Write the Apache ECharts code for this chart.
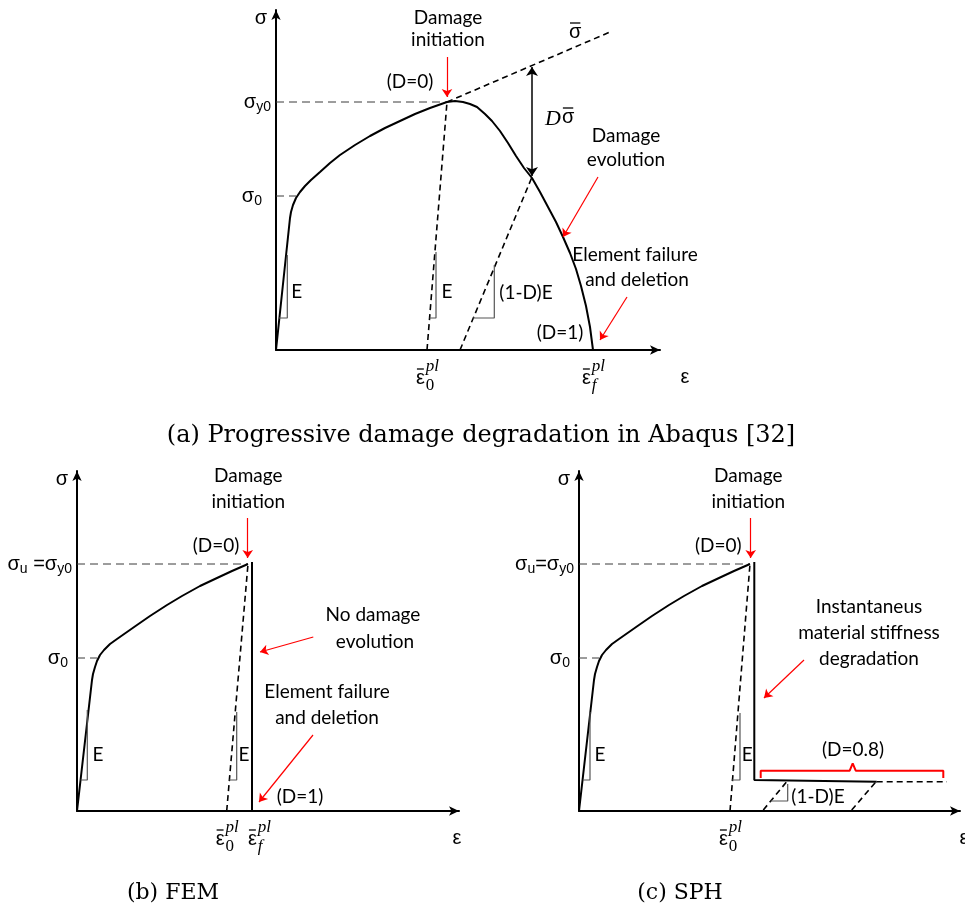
<!DOCTYPE html>
<html>
<head>
<meta charset="utf-8">
<script src="https://cdn.jsdelivr.net/npm/echarts@6/dist/echarts.min.js"></script>
<style>
  html, body { margin: 0; padding: 0; background: #fff; }
  #main { width: 965px; height: 916px; }
</style>
</head>
<body>
<div id="main"></div>
<script>
// ---- data (schematic units: strain on x, stress on y, per panel) ----

// panel (a) Abaqus
const curveA = [[0, 0], [14, 132], [15, 138], [17, 145], [20, 152], [24, 158], [29, 164], [35, 170],
  [44, 178], [54, 187], [64, 195], [79, 205], [94, 214], [109, 222], [124, 229], [139, 236], [154, 242],
  [171, 248], [179, 249], [187, 248], [194, 246], [201, 243], [209, 236], [216, 229], [224, 219],
  [232, 207], [240, 194], [248, 182], [256, 172], [264, 158], [272, 143], [280, 128], [287, 113],
  [294, 97], [300, 81], [305, 64], [310, 44], [314, 23], [317, 0]];
const sigmaBarA = [[171, 248], [334, 318]];
const unloadEA = [[151, 0], [171, 248]];
const unloadDA = [[184, 0], [256, 173]];
const guideYieldA = [[0, 248], [171, 248]];
const guideS0A = [[0, 154], [20, 154]];
const triEA1 = [[3, 32], [11.3, 32], [11.3, 95]];
const triEA2 = [[153.6, 32], [160, 32], [160, 98]];
const triDA = [[197, 32], [218.3, 32], [218.3, 85]];
const dArrowA = [[256, 283], [256, 174]];
const redArrowsA = [
  [[171, 293], [171, 253]],
  [[322, 173], [287, 113]],
  [[351, 53], [324, 10]]
];

// panel (b) FEM
const curveB = [[0, 0], [15, 131], [16, 137], [18, 144], [20, 150], [23, 156], [27, 161], [33, 167],
  [40, 172], [50, 179], [60, 186], [73, 195], [90, 206], [105, 215], [123, 225], [140, 233],
  [155, 240], [171, 247]];
const failB = [[175, 249], [175, 0]];
const unloadEB = [[149.7, 0], [171, 247]];
const guideYieldB = [[0, 247], [171, 247]];
const guideS0B = [[0, 153], [20, 153]];
const triEB1 = [[3.6, 31], [10.3, 31], [10.3, 101]];
const triEB2 = [[152.3, 31], [159.7, 31], [159.7, 99]];
const redArrowsB = [
  [[170.7, 293], [170.7, 253]],
  [[236.3, 174], [183, 159]],
  [[236, 76], [182, 9]]
];

// panel (c) SPH
const curveC = curveB;
const dropC = [[175.3, 249], [175.3, 31], [297.7, 29.3]];
const plateauC = [[297.7, 29.3], [368, 29.3]];
const unloadEC = [[151, 0], [171, 247]];
const unloadDC1 = [[184.3, 1], [207.7, 29.3]];
const unloadDC2 = [[272.7, 1], [297, 29.3]];
const guideYieldC = [[0, 247], [171, 247]];
const guideS0C = [[0, 153], [20, 153]];
const triEC1 = [[3.8, 31], [11, 31], [11, 99]];
const triEC2 = [[152.7, 31], [161, 31], [161, 98]];
const triDC = [[191.7, 10], [208.7, 10], [208.7, 27]];
const bracketC = [[181.7, 33], [181.7, 40.3], [270.7, 40.3], [273.7, 47.7], [276.7, 40.3], [364.3, 40.3], [364.3, 33]];
const redArrowsC = [
  [[171.7, 293], [171.7, 253]],
  [[225, 151], [185, 113]]
];

// text labels [text, x, y] in each panel's units
const labelsA = [['Damage', 172, 332], ['initiation', 172, 310], ['(D=0)', 134, 268],
  ['Damage', 350, 214], ['evolution', 350, 190], ['Element failure', 359, 95], ['and deletion', 361, 70],
  ['(D=1)', 284, 17], ['E', 20.7, 58], ['E', 171, 58], ['(1-D)E', 250, 57]];
const labelsB = [['Damage', 171.3, 335], ['initiation', 171.3, 309], ['(D=0)', 139, 265],
  ['No damage', 296, 196], ['evolution', 298, 169], ['Element failure', 250, 119], ['and deletion', 250, 93],
  ['(D=1)', 223, 14], ['E', 21, 56], ['E', 167, 56]];
const labelsC = [['Damage', 169.3, 335], ['initiation', 169.3, 309], ['(D=0)', 139.3, 265],
  ['Instantaneus', 290, 204], ['material stiffness', 290, 178], ['degradation', 290, 152],
  ['(D=0.8)', 274, 61], ['(1-D)E', 239, 14], ['E', 21, 56], ['E', 168.3, 56]];

const axisMax = [[384, 340], [382, 340], [381, 340]];

// ---- styles ----
const LABEL_FONT = '19px Lato, "Open Sans", sans-serif';
const SYM = '20px "Liberation Sans", Arial, sans-serif';
const SUB = '14px "Liberation Sans", Arial, sans-serif';
const MATH_IT = 'italic 17px "Liberation Serif", serif';
const MATH_RM = '17px "Liberation Serif", serif';

const chart = echarts.init(document.getElementById('main'), null, { renderer: 'canvas' });

const grids = [
  { left: 276, top: 10, width: 384, height: 340 },
  { left: 77, top: 471, width: 382, height: 340 },
  { left: 579, top: 471, width: 381, height: 340 }
];

function axis(i, max) {
  return {
    type: 'value', gridIndex: i, min: 0, max: max,
    axisLine: { show: true, symbol: ['none', 'arrow'], symbolSize: [7, 10], lineStyle: { color: '#000', width: 2 } },
    axisTick: { show: false }, axisLabel: { show: false }, splitLine: { show: false }
  };
}

const SOLID = { color: '#000', width: 2 };
const DASH = { color: '#000', width: 1.6, type: [6, 4] };
const GUIDE = { color: '#3a3a3a', width: 1, type: [8, 5] };
const TRI = { color: '#555', width: 1.2 };

function line(g, data, style) {
  return {
    type: 'line', xAxisIndex: g, yAxisIndex: g, data: data, symbol: 'none', silent: true,
    lineStyle: style, z: 3
  };
}

function arrows(g, list, color, both) {
  return {
    type: 'lines', coordinateSystem: 'cartesian2d', xAxisIndex: g, yAxisIndex: g, silent: true,
    symbol: both ? ['arrow', 'arrow'] : ['none', 'arrow'], symbolSize: both ? 9 : 8,
    lineStyle: { color: color, width: both ? 1.5 : 1.2, opacity: 1 },
    data: list.map(c => ({ coords: c })), z: 4
  };
}

const series = [
  line(0, guideYieldA, GUIDE), line(0, guideS0A, GUIDE),
  line(0, curveA, SOLID),
  line(0, sigmaBarA, DASH), line(0, unloadEA, DASH), line(0, unloadDA, DASH),
  line(0, triEA1, TRI), line(0, triEA2, TRI), line(0, triDA, TRI),
  arrows(0, [dArrowA], '#000', true),
  arrows(0, redArrowsA, '#f00'),

  line(1, guideYieldB, GUIDE), line(1, guideS0B, GUIDE),
  line(1, curveB, SOLID), line(1, failB, SOLID),
  line(1, unloadEB, DASH),
  line(1, triEB1, TRI), line(1, triEB2, TRI),
  arrows(1, redArrowsB, '#f00'),

  line(2, guideYieldC, GUIDE), line(2, guideS0C, GUIDE),
  line(2, curveC, SOLID), line(2, dropC, SOLID), line(2, plateauC, DASH),
  line(2, unloadEC, DASH), line(2, unloadDC1, DASH), line(2, unloadDC2, DASH),
  line(2, triEC1, TRI), line(2, triEC2, TRI), line(2, triDC, TRI),
  line(2, bracketC, { color: '#f00', width: 2 }),
  arrows(2, redArrowsC, '#f00')
];

chart.setOption({
  animation: false,
  backgroundColor: '#fff',
  grid: grids,
  xAxis: axisMax.map((m, i) => axis(i, m[0])),
  yAxis: axisMax.map((m, i) => axis(i, m[1])),
  series: series
});

// ---- text annotations ----
const ctx = document.createElement('canvas').getContext('2d');
function tw(t, font) { ctx.font = font; return ctx.measureText(t).width; }
function px(g, p) { return chart.convertToPixel({ gridIndex: g }, p); }

function text(x, y, t, font, align, fill) {
  return {
    type: 'text', x: x, y: y, silent: true,
    style: { text: t, font: font, fill: fill || '#000', textAlign: align || 'center', textVerticalAlign: 'middle',
      align: align || 'center', verticalAlign: 'middle' }
  };
}

// pieces: [text, font, dy]
function row(x, y, pieces, align) {
  const total = pieces.reduce((s, p) => s + tw(p[0], p[1]), 0);
  let cx = align === 'right' ? x - total : align === 'center' ? x - total / 2 : x;
  return pieces.map(p => {
    const el = text(cx, y + (p[2] || 0), p[0], p[1], 'left');
    cx += tw(p[0], p[1]);
    return el;
  });
}

function bar(x1, x2, y) {
  return { type: 'line', silent: true, shape: { x1: x1, y1: y, x2: x2, y2: y }, style: { stroke: '#000', lineWidth: 1.3 } };
}

function epsBar(g, pos, sub) {
  const [x, y] = px(g, pos);
  const w = tw('ε', SYM);
  const sw = Math.max(tw('pl', MATH_IT), tw(sub, MATH_IT));
  const left = x - (w + sw) / 2;
  const subFont = sub === 'f' ? MATH_IT : MATH_RM;
  return [
    text(left, y + 2, 'ε', SYM, 'left'),
    bar(left + 1, left + w - 1, y - 7),
    text(left + w + 1, y - 9, 'pl', MATH_IT, 'left'),
    text(left + w + 1, y + 10, sub, subFont, 'left')
  ];
}

function sigmaBar(x, y, font) {
  const w = tw('σ', font);
  return [text(x, y, 'σ', font, 'left'), bar(x + 1, x + w - 1, y - 9)];
}

function labels(g, list) {
  return list.map(l => {
    const [x, y] = px(g, [l[1], l[2]]);
    return text(x, y, l[0], LABEL_FONT, 'center');
  });
}

const epsOffset = [25, -2, 4];

function sigmaLabels(g, yieldText) {
  const out = [];
  const [ax, ay] = px(g, [0, axisMax[g][1]]);
  out.push(text(ax - 15, ay + 8, 'σ', SYM, 'center'));
  const [yx, yy] = px(g, [-5, g === 0 ? 248 : 247]);
  out.push(...row(yx, yy, yieldText, 'right'));
  const [sx, sy] = px(g, [g === 0 ? -14 : -9, g === 0 ? 154 : 153]);
  out.push(...row(sx, sy, [['σ', SYM], ['0', SUB, 5]], 'right'));
  const [ex, ey] = px(g, [axisMax[g][0], 0]);
  out.push(text(ex + epsOffset[g], ey + 27, 'ε', SYM, 'center'));
  return out;
}

function buildGraphics() {
  const els = [];
  // panel (a)
  els.push(...sigmaLabels(0, [['σ', SYM], ['y0', SUB, 5]]));
  els.push(...labels(0, labelsA));
  els.push(...epsBar(0, [151, -26], '0'));
  els.push(...epsBar(0, [317, -26], 'f'));
  const [sbx, sby] = px(0, [293, 318]);
  els.push(...sigmaBar(sbx, sby, SYM));
  const [dx, dy] = px(0, [269, 233]);
  const DFONT = 'italic 22px "Liberation Serif", serif';
  els.push(text(dx, dy + 2, 'D', DFONT, 'left'));
  els.push(...sigmaBar(dx + tw('D', DFONT) + 1, dy, SYM));

  // panel (b)
  els.push(...sigmaLabels(1, [['σ', SYM], ['u', SUB, 5], [' =σ', SYM], ['y0', SUB, 5]]));
  els.push(...labels(1, labelsB));
  els.push(...epsBar(1, [149.7, -26], '0'));
  els.push(...epsBar(1, [182, -26], 'f'));

  // panel (c)
  els.push(...sigmaLabels(2, [['σ', SYM], ['u', SUB, 5], ['=σ', SYM], ['y0', SUB, 5]]));
  els.push(...labels(2, labelsC));
  els.push(...epsBar(2, [151, -26], '0'));

  // captions
  els.push(text(481, 436, '(a) Progressive damage degradation in Abaqus [32]', '24px "DejaVu Serif", serif', 'center'));
  els.push(text(173, 893, '(b) FEM', '22px "DejaVu Serif", serif', 'center'));
  els.push(text(680, 893, '(c) SPH', '22px "DejaVu Serif", serif', 'center'));
  return els;
}

chart.setOption({ graphic: { elements: buildGraphics() } });
</script>
</body>
</html>
